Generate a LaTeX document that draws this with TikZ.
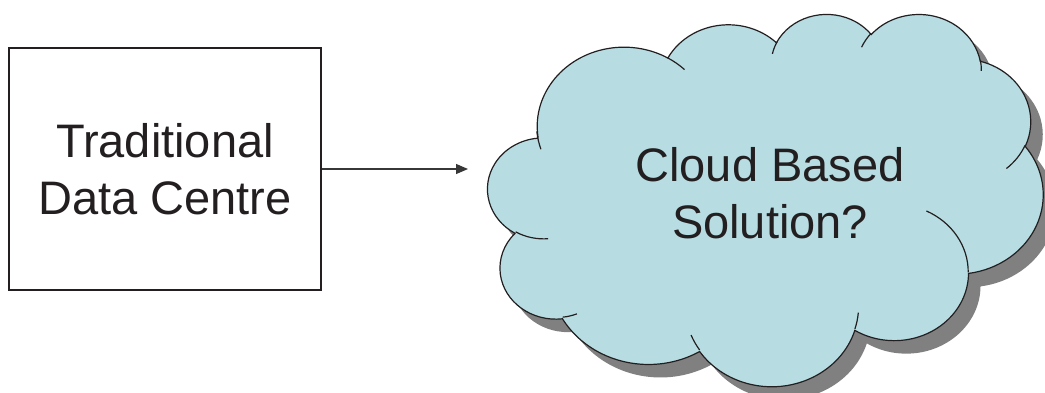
\documentclass[tikz,border=0pt]{standalone}
\usepackage{fontspec}
\setmainfont{Liberation Sans}
\usetikzlibrary{arrows.meta}
\definecolor{ink}{RGB}{35,31,32}
\definecolor{cloudfill}{RGB}{183,221,227}
\definecolor{shadowgray}{RGB}{128,128,128}
\definecolor{arrowgray}{RGB}{55,55,55}
\tikzset{
  declare function={vp(\t,\a,\b)=\t+mod(atan2(\a*sin(\t),\b*cos(\t))-\t+540,360)-180;},
  boxnode/.style={draw=ink,line width=1.5pt,minimum width=312pt,minimum height=242pt,inner sep=0pt,align=center,text=ink,font=\fontsize{47}{57}\selectfont},
  cloudtext/.style={align=center,text=ink,font=\fontsize{47}{57}\selectfont},
  link/.style={draw=arrowgray,line width=1.2pt,-{Triangle[length=12pt,width=10pt]}},
  cloudline/.style={draw=ink,line width=1.2pt}
}
\newcommand\ca[4]{arc[x radius=#1,y radius=#2,start angle={vp(#3,#1,#2)},end angle={vp(#3+#4,#1,#2)}]}
\newcommand\cloudouter{(39.00,143.70)
  \ca{67.53}{91.90}{-190.48748}{123.78053}
  \ca{53.33}{72.67}{-144.10238}{89.94523}
  \ca{43.65}{59.45}{-145.80792}{99.72302}
  \ca{48.57}{65.95}{-130.98607}{117.24173}
  \ca{53.33}{72.73}{-78.70888}{109.02692}
  \ca{67.75}{92.20}{-46.26725}{130.26900}
  \ca{57.85}{78.67}{0.62502}{114.03333}
  \ca{67.52}{92.15}{22.45160}{115.17255}
  \ca{77.20}{105.43}{66.24263}{75.71102}
  \ca{43.60}{59.18}{-274.94208}{146.73557}
  \ca{43.45}{59.45}{-246.82850}{152.51885}
  -- cycle}
\newcommand\cloudinner{
  (46.93,261.77) \ca{43.45}{59.45}{86.74200}{26.42950}
  (69.28,348.99) \ca{43.60}{59.18}{73.61047}{11.44747}
  (164.78,390.90) \ca{67.52}{92.15}{137.62415}{14.08110}
  (288.27,347.51) \ca{67.52}{92.15}{6.45327}{15.99835}
  (341.29,229.54) \ca{57.85}{78.67}{-70.29235}{70.91737}
  (417.98,153.54) \ca{53.33}{72.73}{30.31803}{27.75150}
  (383.24,54.26) \ca{48.57}{65.95}{-13.74433}{14.85890}
  (290.78,39.52) \ca{48.57}{65.95}{-149.18145}{18.19537}
  (221.41,47.20) \ca{43.65}{59.45}{-163.49427}{17.68635}
  (140.00,51.92) \ca{67.53}{91.90}{-66.70695}{12.31935}
  (41.27,157.89) \ca{67.53}{91.90}{155.63625}{17.42437}}
\begin{document}
\begin{tikzpicture}[x=1pt,y=-1pt]
  \clip (0,0) rectangle (1045,392);
  \fill[white] (0,0) rectangle (1045,392);
  % cloud
  \begin{scope}[shift={(487.9,13.2)},x=1.28495pt,y=-0.86157pt]
    \begin{scope}[xshift=12pt,yshift=-13pt]
      \path[fill=shadowgray] \cloudouter;
    \end{scope}
    \path[fill=cloudfill,cloudline] \cloudouter;
    \path[cloudline] \cloudinner;
  \end{scope}
  % nodes
  \node[boxnode] (dc) at (165,169) {Traditional\\Data Centre};
  \node[cloudtext] (cs) at (770,193.4) {Cloud Based\\Solution?};
  \coordinate (tip) at (468,169);
  \draw[link] (dc.east) -- (tip);
\end{tikzpicture}
\end{document}
